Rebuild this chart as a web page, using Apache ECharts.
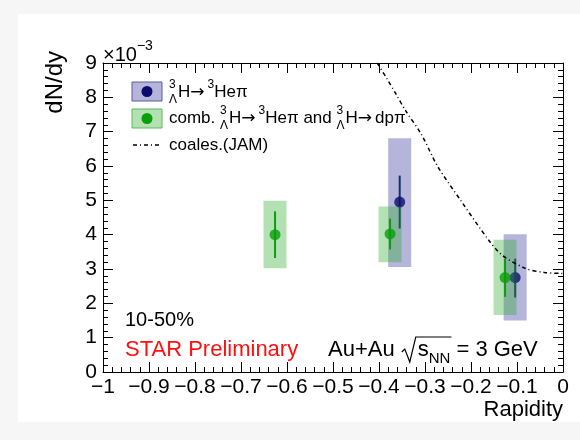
<!DOCTYPE html>
<html>
<head>
<meta charset="utf-8">
<script src="https://cdn.jsdelivr.net/npm/echarts@6/dist/echarts.min.js"></script>
<style>
  html, body { margin: 0; padding: 0; background: #f6f6f6; }
  #chart { width: 580px; height: 440px; }
</style>
</head>
<body>
<div id="chart"></div>
<script>
// Hypertriton dN/dy versus rapidity, 10-50% Au+Au at 3 GeV.
// All yields are in units of 1e-3 (see the ×10^-3 multiplier on the y axis).

// 3ΛH -> 3He pi channel
const heRapidity = [-0.355, -0.104];
const heDndy     = [4.95, 2.75];
const heStatLow  = [4.18, 2.17];
const heStatHigh = [5.72, 3.30];
const heSysLow   = [3.06, 1.50];
const heSysHigh  = [6.81, 4.01];

// combined 3He pi and d p pi channels
const combRapidity = [-0.626, -0.376, -0.126];
const combDndy     = [4.00, 4.02, 2.75];
const combStatLow  = [3.32, 3.57, 2.19];
const combStatHigh = [4.68, 4.47, 3.30];
const combSysLow   = [3.02, 3.20, 1.66];
const combSysHigh  = [4.99, 4.82, 3.85];

// coalescence (JAM) expectation
const jamRapidity = [-0.404, -0.383, -0.362, -0.343, -0.307, -0.273, -0.222, -0.161, -0.132, -0.082, -0.041, 0.0];
const jamDndy     = [9.0, 8.55, 8.07, 7.63, 6.90, 6.00, 4.99, 3.83, 3.40, 3.02, 2.90, 2.87];

// axis ranges and tick steps
const xRange = [-1, 0], xStep = 0.1;
const yRange = [0, 9], yStep = 1;

const FONT = '"Liberation Sans", Arial, Helvetica, sans-serif';
const ARROW_FONT = '"DejaVu Sans", sans-serif';
const BOX_HALF_WIDTH = 0.025;   // half width (rapidity units) of systematic boxes

const heBoxColor = 'rgba(60, 60, 160, 0.38)';
const heColor = '#0b0b6e';
const heBarColor = '#14306a';
const combBoxColor = 'rgba(40, 170, 40, 0.35)';
const combColor = '#0a9e0a';

function fmtTick(v) {
  const s = Math.abs(v) < 1e-9 ? '0' : (Number.isInteger(v) ? String(v) : v.toFixed(1));
  return s.replace('-', '\u2212');
}

function boxSeries(rap, lo, hi, color, z) {
  return {
    type: 'custom', z: z, silent: true,
    data: rap.map((r, i) => [r, lo[i], hi[i]]),
    encode: { x: 0, y: [1, 2] },
    renderItem: function (params, api) {
      const x = api.value(0);
      const p1 = api.coord([x - BOX_HALF_WIDTH, api.value(2)]);
      const p2 = api.coord([x + BOX_HALF_WIDTH, api.value(1)]);
      return { type: 'rect', shape: { x: p1[0], y: p1[1], width: p2[0] - p1[0], height: p2[1] - p1[1] },
               style: { fill: color } };
    }
  };
}

function errSeries(rap, lo, hi, color, z) {
  return {
    type: 'custom', z: z, silent: true,
    data: rap.map((r, i) => [r, lo[i], hi[i]]),
    encode: { x: 0, y: [1, 2] },
    renderItem: function (params, api) {
      const a = api.coord([api.value(0), api.value(1)]);
      const b = api.coord([api.value(0), api.value(2)]);
      return { type: 'line', shape: { x1: a[0], y1: a[1], x2: b[0], y2: b[1] },
               style: { stroke: color, lineWidth: 2 } };
    }
  };
}

function pointSeries(rap, val, color, z) {
  return {
    type: 'scatter', z: z, silent: true, symbol: 'circle', symbolSize: 11,
    itemStyle: { color: color },
    data: rap.map((r, i) => [r, val[i]])
  };
}

// text measuring for sub/superscript layout
const measureCtx = document.createElement('canvas').getContext('2d');
function textWidth(str, size, family) {
  measureCtx.font = size + 'px ' + (family || FONT);
  return measureCtx.measureText(str).width;
}
function txt(x, y, str, size, color, family) {
  return { type: 'text', x: x, y: y, silent: true,
           style: { text: str, font: size + 'px ' + (family || FONT), fill: color || '#000',
                    align: 'left', verticalAlign: 'middle', textAlign: 'left', textVerticalAlign: 'middle' } };
}
// parts: {t} plain, {sup} superscript, {sub} subscript, {pre:[sup, sub]} stacked prescript, {arrow}
function richLine(x, y, parts, size, color) {
  const small = Math.round(size * 0.68);
  const els = [];
  let cx = x;
  parts.forEach(p => {
    if (p.pre) {
      els.push(txt(cx, y - size * 0.42, p.pre[0], small, color));
      els.push(txt(cx, y + size * 0.48, p.pre[1], small, color));
      cx += Math.max(textWidth(p.pre[0], small), textWidth(p.pre[1], small)) + 1;
    } else if (p.arrow) {
      els.push(txt(cx, y + 1, '\u2192', size, color, ARROW_FONT));
      cx += textWidth('\u2192', size, ARROW_FONT) + 3;
    } else if (p.sup !== undefined) {
      els.push(txt(cx, y - size * 0.42, p.sup, small, color));
      cx += textWidth(p.sup, small);
    } else if (p.sub !== undefined) {
      els.push(txt(cx, y + size * 0.42, p.sub, small, color));
      cx += textWidth(p.sub, small);
    } else {
      els.push(txt(cx, y, p.t, size, color));
      cx += textWidth(p.t, size);
    }
  });
  return { els: els, end: cx };
}

const graphics = [];
// page card
graphics.push({ type: 'rect', z: -10, silent: true, shape: { x: 18, y: 14, width: 562, height: 408 }, style: { fill: '#ffffff' } });

// axis titles and multiplier
graphics.push({ type: 'text', x: 55, y: 51, rotation: Math.PI / 2, silent: true,
  style: { text: 'dN/dy', font: '24px ' + FONT, fill: '#000', align: 'right', verticalAlign: 'middle', textAlign: 'right', textVerticalAlign: 'middle' } });
graphics.push({ type: 'text', x: 563, y: 410, silent: true,
  style: { text: 'Rapidity', font: '22px ' + FONT, fill: '#000', align: 'right', verticalAlign: 'middle', textAlign: 'right', textVerticalAlign: 'middle' } });
richLine(103, 55, [{ t: '\u00d710' }, { sup: '\u22123' }], 20).els.forEach(e => graphics.push(e));

// legend
const legendText = 169;
graphics.push({ type: 'rect', silent: true, shape: { x: 132, y: 82, width: 30, height: 19 },
  style: { fill: heBoxColor, stroke: '#5a5aa0', lineWidth: 1 } });
graphics.push({ type: 'circle', silent: true, shape: { cx: 147, cy: 91.5, r: 5.5 }, style: { fill: heColor } });
richLine(legendText, 92, [{ pre: ['3', '\u039b'] }, { t: 'H' }, { arrow: true }, { sup: '3' }, { t: 'He\u03c0' }], 17).els.forEach(e => graphics.push(e));

graphics.push({ type: 'rect', silent: true, shape: { x: 132, y: 109, width: 30, height: 19 },
  style: { fill: combBoxColor, stroke: '#5cb85c', lineWidth: 1 } });
graphics.push({ type: 'circle', silent: true, shape: { cx: 147, cy: 118.5, r: 5.5 }, style: { fill: combColor } });
richLine(legendText, 118, [{ t: 'comb. ' }, { pre: ['3', '\u039b'] }, { t: 'H' }, { arrow: true }, { sup: '3' }, { t: 'He\u03c0 and ' },
  { pre: ['3', '\u039b'] }, { t: 'H' }, { arrow: true }, { t: 'dp\u03c0' }], 17).els.forEach(e => graphics.push(e));

graphics.push({ type: 'line', silent: true, shape: { x1: 133, y1: 145, x2: 161, y2: 145 },
  style: { stroke: '#000', lineWidth: 1.5, lineDash: [4, 3, 1, 3] } });
graphics.push(txt(legendText, 145, 'coales.(JAM)', 17));

// annotations
graphics.push(txt(125, 320, '10-50%', 20));
graphics.push(txt(125, 350, 'STAR Preliminary', 22, '#ff1010'));
const auLine = richLine(328, 350, [{ t: 'Au+Au ' }], 22);
auLine.els.forEach(e => graphics.push(e));
const rx = auLine.end + 1;
const sqrtPart = richLine(rx + 16, 350, [{ t: 's' }, { sub: 'NN' }], 22);
sqrtPart.els.forEach(e => graphics.push(e));
graphics.push({ type: 'polyline', silent: true,
  shape: { points: [[rx, 352], [rx + 3, 349], [rx + 8, 362], [rx + 14, 337], [sqrtPart.end + 1, 337]] },
  style: { stroke: '#000', lineWidth: 1.2, fill: null } });
graphics.push(txt(sqrtPart.end + 6, 350, '= 3 GeV', 22));

const axisCommon = {
  axisLine: { show: true, onZero: false, lineStyle: { color: '#000', width: 1 } },
  axisTick: { show: true, inside: true, length: 10, lineStyle: { color: '#000', width: 1 } },
  minorTick: { show: true, splitNumber: 5, length: 5, lineStyle: { color: '#000', width: 1 } },
  splitLine: { show: false },
  minorSplitLine: { show: false }
};

const option = {
  backgroundColor: '#f6f6f6',
  animation: false,
  grid: { left: 103, right: 17, top: 63, bottom: 68, containLabel: false },
  xAxis: [
    Object.assign({ type: 'value', position: 'bottom', min: xRange[0], max: xRange[1], interval: xStep,
      axisLabel: { show: true, margin: 5, fontSize: 21, fontFamily: FONT, color: '#000', showMinLabel: true, showMaxLabel: true, formatter: fmtTick } }, axisCommon),
    Object.assign({ type: 'value', position: 'top', min: xRange[0], max: xRange[1], interval: xStep,
      axisLabel: { show: false } }, axisCommon)
  ],
  yAxis: [
    Object.assign({ type: 'value', position: 'left', min: yRange[0], max: yRange[1], interval: yStep,
      axisLabel: { show: true, margin: 6, fontSize: 21, fontFamily: FONT, color: '#000', showMinLabel: true, showMaxLabel: true, formatter: fmtTick } }, axisCommon),
    Object.assign({ type: 'value', position: 'right', min: yRange[0], max: yRange[1], interval: yStep,
      axisLabel: { show: false } }, axisCommon)
  ],
  graphic: { elements: graphics },
  series: [
    boxSeries(heRapidity, heSysLow, heSysHigh, heBoxColor, 2),
    errSeries(heRapidity, heStatLow, heStatHigh, heBarColor, 3),
    pointSeries(heRapidity, heDndy, heColor, 4),
    boxSeries(combRapidity, combSysLow, combSysHigh, combBoxColor, 5),
    errSeries(combRapidity, combStatLow, combStatHigh, combColor, 6),
    pointSeries(combRapidity, combDndy, combColor, 7),
    {
      type: 'line', z: 8, silent: true, symbol: 'none', smooth: 0.3, clip: true,
      lineStyle: { color: '#000', width: 1.5, type: [4, 3, 1, 3] },
      data: jamRapidity.map((r, i) => [r, jamDndy[i]])
    }
  ]
};

const chart = echarts.init(document.getElementById('chart'), null, { renderer: 'canvas' });
chart.setOption(option);
</script>
</body>
</html>
